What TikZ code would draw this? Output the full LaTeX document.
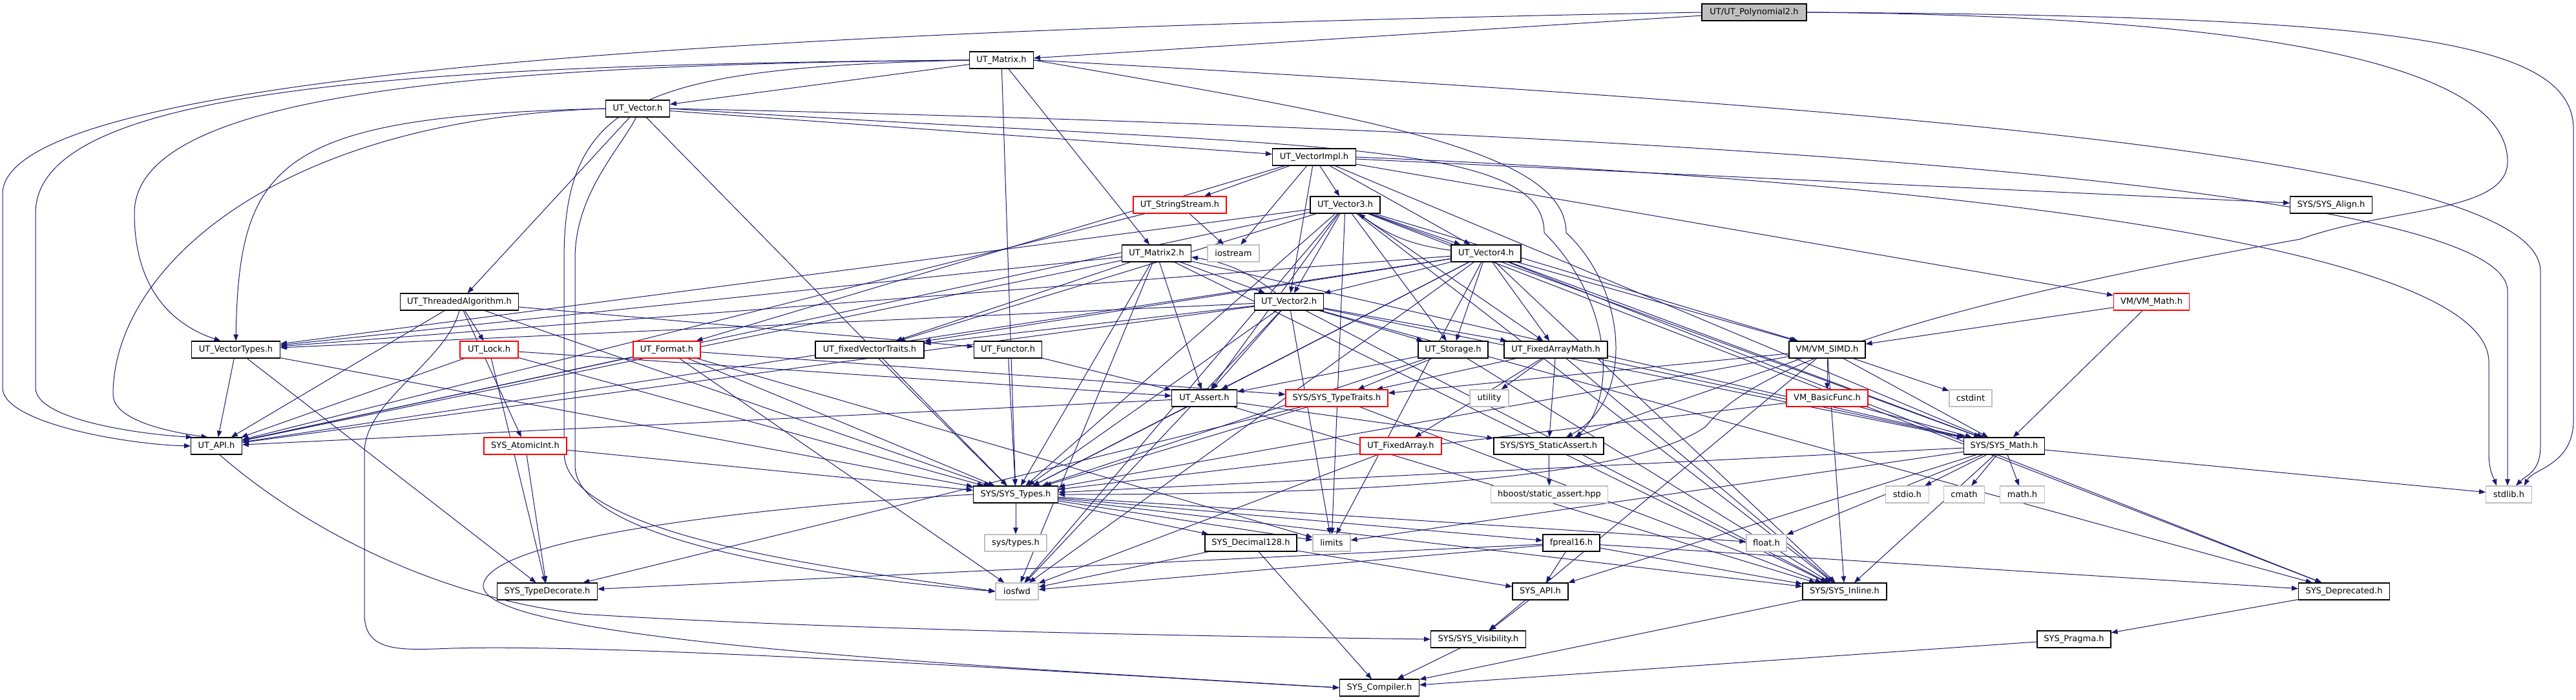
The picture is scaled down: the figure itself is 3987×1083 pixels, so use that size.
\documentclass[tikz,border=0pt]{standalone}
\usepackage{fontspec}
\setmainfont{DejaVu Sans}
\usetikzlibrary{arrows.meta}
\definecolor{mblue}{HTML}{191970}
\definecolor{lgray}{HTML}{BFBFBF}
\pgfdeclarelayer{bg}
\pgfsetlayers{bg,main}
\tikzset{
  nd/.style={draw=black, line width=1.1pt, fill=white, minimum height=26pt, inner sep=0pt, font=\fontsize{13}{15}\selectfont, text=black},
  rd/.style={nd, draw=red},
  gy/.style={nd, draw=lgray},
  dep/.style={draw=mblue, line width=1.0pt, -{Triangle[length=10pt,width=7.5pt]}}
}
\begin{document}
\begin{tikzpicture}[x=1pt,y=-1pt]
\useasboundingbox (0,0) rectangle (3987,1083);
% rank 0-4
\node[nd, fill=lgray, minimum width=162pt] (P) at (2715,19) {UT/UT\_Polynomial2.h};
\node[nd, minimum width=99pt] (M) at (1550,93) {UT\_Matrix.h};
\node[nd, minimum width=99pt] (V) at (987,168) {UT\_Vector.h};
\node[nd, minimum width=129pt] (VI) at (2034,243) {UT\_VectorImpl.h};
\node[rd, minimum width=144pt] (SS) at (1826,317) {UT\_StringStream.h};
\node[nd, minimum width=108pt] (V3) at (2082,317) {UT\_Vector3.h};
\node[nd, minimum width=127pt] (AL) at (3608,317) {SYS/SYS\_Align.h};
% rank 5
\node[nd, minimum width=107pt] (M2) at (1790,392) {UT\_Matrix2.h};
\node[gy, minimum width=80pt] (IOS) at (1909,392) {iostream};
\node[nd, minimum width=108pt] (V4) at (2300,392) {UT\_Vector4.h};
% rank 6
\node[nd, minimum width=183pt] (TA) at (711,467) {UT\_ThreadedAlgorithm.h};
\node[nd, minimum width=107pt] (V2) at (1995,467) {UT\_Vector2.h};
\node[rd, minimum width=117pt] (VMM) at (3330,467) {VM/VM\_Math.h};
% rank 7
\node[nd, minimum width=137pt] (VT) at (365,541) {UT\_VectorTypes.h};
\node[rd, minimum width=90pt] (LK) at (757,541) {UT\_Lock.h};
\node[rd, minimum width=104pt] (FM) at (1032,541) {UT\_Format.h};
\node[nd, minimum width=168pt] (FVT) at (1346,541) {UT\_fixedVectorTraits.h};
\node[nd, minimum width=105pt] (FN) at (1560,541) {UT\_Functor.h};
\node[nd, minimum width=108pt] (ST) at (2249,541) {UT\_Storage.h};
\node[nd, minimum width=160pt] (FAM) at (2408,541) {UT\_FixedArrayMath.h};
\node[nd, minimum width=118pt] (SIMD) at (2828,541) {VM/VM\_SIMD.h};
% rank 8
\node[nd, minimum width=101pt] (AS) at (1864,616) {UT\_Assert.h};
\node[rd, minimum width=158pt] (TT) at (2069,616) {SYS/SYS\_TypeTraits.h};
\node[gy, minimum width=60pt] (UTL) at (2305,616) {utility};
\node[rd, minimum width=126pt] (BF) at (2828,616) {VM\_BasicFunc.h};
\node[gy, minimum width=66pt] (CST) at (3050,616) {cstdint};
% rank 9
\node[nd, minimum width=79pt] (API) at (335,690) {UT\_API.h};
\node[rd, minimum width=128pt] (AI) at (813,690) {SYS\_AtomicInt.h};
\node[rd, minimum width=126pt] (FA) at (2168,690) {UT\_FixedArray.h};
\node[nd, minimum width=170pt] (SA) at (2397,690) {SYS/SYS\_StaticAssert.h};
\node[nd, minimum width=125pt] (MATH) at (3102,690) {SYS/SYS\_Math.h};
% rank 10
\node[nd, minimum width=131pt] (TY) at (1572,765) {SYS/SYS\_Types.h};
\node[gy, minimum width=181pt] (HB) at (2398,765) {hboost/static\_assert.hpp};
\node[gy, minimum width=67pt] (STDIO) at (2952,765) {stdio.h};
\node[gy, minimum width=63pt] (CMATH) at (3040,765) {cmath};
\node[gy, minimum width=69pt] (MATHH) at (3130,765) {math.h};
\node[gy, minimum width=71pt] (STDLIB) at (3883,765) {stdlib.h};
% rank 11
\node[gy, minimum width=96pt] (STY) at (1572,840) {sys/types.h};
\node[nd, minimum width=142pt] (D128) at (1936,840) {SYS\_Decimal128.h};
\node[gy, minimum width=58pt] (LIM) at (2061,840) {limits};
\node[nd, minimum width=88pt] (F16) at (2432,840) {fpreal16.h};
\node[gy, minimum width=62pt] (FLT) at (2734,840) {float.h};
% rank 12
\node[nd, minimum width=155pt] (TD) at (847,915) {SYS\_TypeDecorate.h};
\node[gy, minimum width=66pt] (IOSF) at (1574,915) {iosfwd};
\node[nd, minimum width=86pt] (SAPI) at (2384,915) {SYS\_API.h};
\node[nd, minimum width=130pt] (INL) at (2855,915) {SYS/SYS\_Inline.h};
\node[nd, minimum width=141pt] (DEP) at (3628,915) {SYS\_Deprecated.h};
% rank 13-14
\node[nd, minimum width=147pt] (VIS) at (2288,989) {SYS/SYS\_Visibility.h};
\node[nd, minimum width=114pt] (PR) at (3210,989) {SYS\_Pragma.h};
\node[nd, minimum width=123pt] (CMP) at (2135,1064) {SYS\_Compiler.h};

% waypoints
\coordinate (pa1) at (4,300); \coordinate (pa2) at (4,600);
\coordinate (ma1) at (55,330); \coordinate (ma2) at (55,600);
\coordinate (mv1) at (208,330);
\coordinate (va1) at (175,610);
\coordinate (mi1) at (873,400); \coordinate (mi2) at (873,700);
\coordinate (vi1) at (890,400); \coordinate (vi2) at (890,720);
\coordinate (tc1) at (564,700); \coordinate (tc2) at (564,950); \coordinate (tc3) at (700,1003);
\coordinate (ty1) at (748,905);
\coordinate (av1) at (900,950);
\coordinate (pt1) at (3881,250); \coordinate (pt2) at (3560,370); \coordinate (pt3) at (2640,660);
\coordinate (ps1) at (3983,200); \coordinate (ps2) at (3983,650);
\coordinate (ms1) at (3932,420); \coordinate (ms2) at (3932,690);
\coordinate (vs1) at (3881,450);
\coordinate (is1) at (3852,560); \coordinate (is2) at (3852,700);
\coordinate (msa) at (2424,360);
\coordinate (vsa) at (2390,360);

\begin{pgfonlayer}{bg}
\foreach \ea/\eb in {
P/M,
M/V, M/M2, M/TY,
V/VI, V/TA, V/TY,
VI/SS, VI/V3, VI/V4, VI/V2, VI/IOS, VI/AL, VI/VMM, VI/FM, VI/MATH,
SS/IOS, SS/API,
V3/V4, V3/V2, V3/API, V3/AS, V3/FVT, V3/ST, V3/VT, V3/DEP, V3/INL, V3/MATH, V3/SIMD, V3/LIM, V3/IOSF, V3/FAM, V3/TY,
V4/V2, V4/API, V4/AS, V4/FVT, V4/ST, V4/VT, V4/DEP, V4/INL, V4/MATH, V4/SIMD, V4/LIM, V4/IOSF, V4/FAM, V4/TY,
M2/V2, M2/API, M2/AS, M2/FVT, M2/VT, M2/TY, M2/MATH, M2/IOSF, M2/INL,
V2/API, V2/AS, V2/FVT, V2/ST, V2/VT, V2/INL, V2/MATH, V2/IOSF, V2/LIM, V2/FAM, V2/DEP, V2/TY,
TA/LK, TA/AI, TA/API, TA/FN, TA/TY,
VMM/SIMD, VMM/MATH,
VT/API, VT/TD, VT/TY,
LK/API, LK/TD, LK/AS, LK/TY,
FM/API, FM/TT, FM/TY, FM/IOSF, FM/LIM,
FVT/TY, FN/AS, FN/TY,
ST/AS, ST/TT, ST/INL, ST/TY,
FAM/TT, FAM/FA, FAM/UTL, FAM/SA, FAM/MATH, FAM/INL,
SIMD/BF, SIMD/CST, SIMD/MATH, SIMD/TT, SIMD/SA, SIMD/VIS, SIMD/INL, SIMD/TY,
AS/API, AS/TY, AS/SA, AS/INL,
TT/TD, TT/INL, TT/TY,
BF/TY, BF/MATH,
AI/TY, AI/TD,
FA/IOSF,
SA/HB,
MATH/STDIO, MATH/CMATH, MATH/MATHH, MATH/STDLIB, MATH/TY, MATH/FLT, MATH/INL, MATH/LIM, MATH/SAPI,
TY/STY, TY/D128, TY/LIM, TY/F16, TY/FLT, TY/INL,
D128/IOSF, D128/SAPI, D128/CMP,
F16/SAPI, F16/IOSF, F16/INL, F16/DEP, F16/TD,
SAPI/VIS, INL/CMP, DEP/PR, PR/CMP, VIS/CMP}
  \draw[dep] (\ea) -- (\eb);
% back edges
\draw[dep] (V4) to[bend left=14] (V3);
\draw[dep] (V2) to[bend right=14] (M2);
% long routed edges
\draw[dep] (P.west) .. controls (1200,45) and (4,110) .. (pa1) -- (pa2) .. controls (4,655) and (200,688) .. (API.west);
\draw[dep] (M.west) .. controls (600,100) and (55,140) .. (ma1) -- (ma2) .. controls (55,650) and (220,672) .. (API.160);
\draw[dep] (M.west) .. controls (700,100) and (208,150) .. (mv1) .. controls (208,440) and (260,500) .. (VT.150);
\draw[dep] (V.west) .. controls (430,180) and (370,250) .. (VT.north);
\draw[dep] (V.west) .. controls (420,185) and (175,420) .. (va1) .. controls (175,650) and (260,668) .. (API.135);
\draw[dep] (M.west) .. controls (1000,105) and (873,150) .. (mi1) -- (mi2) .. controls (873,830) and (1300,880) .. (IOSF.west);
\draw[dep] (V.-100) .. controls (960,230) and (890,300) .. (vi1) -- (vi2) .. controls (890,840) and (1300,895) .. (IOSF.west);
\draw[dep] (TA.south) .. controls (690,560) and (564,620) .. (tc1) -- (tc2) .. controls (564,1010) and (620,1006) .. (tc3) .. controls (1000,995) and (1800,1050) .. (CMP.west);
\draw[dep] (TY.west) .. controls (1300,776) and (760,820) .. (ty1) .. controls (740,990) and (1500,1030) .. (CMP.west);
\draw[dep] (API.-70) .. controls (450,800) and (650,920) .. (av1) .. controls (1300,975) and (1900,985) .. (VIS.west);
\draw[dep] (P.east) .. controls (3500,25) and (3881,100) .. (pt1) .. controls (3881,330) and (3700,320) .. (pt2) .. controls (3000,470) and (2720,560) .. (pt3) .. controls (2500,760) and (1900,765) .. (TY.east);
\draw[dep] (P.east) .. controls (3700,25) and (3983,60) .. (ps1) -- (ps2) .. controls (3983,720) and (3920,725) .. ([xshift=24pt]STDLIB.north);
\draw[dep] (M.east) .. controls (3000,170) and (3932,250) .. (ms1) -- (ms2) .. controls (3932,730) and (3910,735) .. ([xshift=11pt]STDLIB.north);
\draw[dep] (V.east) .. controls (2500,200) and (3881,280) .. (vs1) -- ([xshift=-2pt]STDLIB.north);
\draw[dep] (VI.east) .. controls (3000,280) and (3852,380) .. (is1) -- (is2) .. controls (3852,730) and (3860,740) .. ([xshift=-19pt]STDLIB.north);
\draw[dep] (M.east) .. controls (2100,180) and (2424,230) .. (msa) .. controls (2520,450) and (2530,620) .. ([xshift=27pt]SA.north);
\draw[dep] (V.east) .. controls (2000,230) and (2390,210) .. (vsa) .. controls (2500,470) and (2500,620) .. ([xshift=42pt]SA.north);
\end{pgfonlayer}
\end{tikzpicture}
\end{document}
